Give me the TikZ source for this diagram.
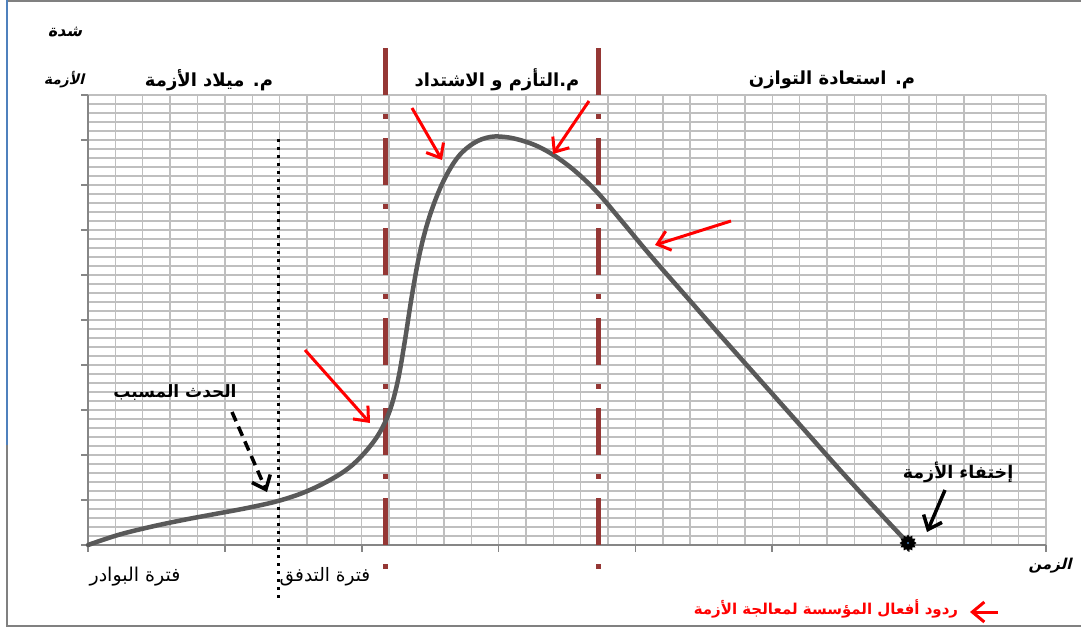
\documentclass[tikz,border=0pt]{standalone}
\usepackage{fontspec}
\usetikzlibrary{arrows.meta,shapes.geometric}
\TeXXeTstate=1
\newfontfamily\ar[Script=Arabic]{DejaVu Sans}
\newfontfamily\arsl[Script=Arabic,FakeSlant=0.25]{DejaVu Sans}
\definecolor{gridc}{RGB}{191,191,191}
\definecolor{axc}{RGB}{134,134,134}
\definecolor{curvec}{RGB}{89,89,89}
\definecolor{phasec}{RGB}{149,55,53}
\definecolor{framec}{RGB}{128,128,128}
\definecolor{bluec}{RGB}{79,129,189}
\definecolor{redc}{RGB}{255,0,0}
\tikzset{
  gridline/.style={gridc, line width=1.4pt},
  axisline/.style={axc, line width=1.6pt},
  curveline/.style={curvec, line width=4.5pt, line cap=round, line join=round},
  phaseline/.style={phasec, line width=5pt, dash pattern=on 47pt off 19pt on 5pt off 19pt},
  dotline/.style={black, line width=3pt, dash pattern=on 3pt off 5pt},
  redarrow/.style={redc, line width=3pt, -{Straight Barb[length=12pt,width=20pt,line width=3pt]}},
  blackarrow/.style={black, line width=3.5pt, -{Straight Barb[length=12pt,width=20pt,line width=3.5pt]}},
  lab/.style={inner sep=0pt, outer sep=0pt, text=black}
}
\begin{document}
\begin{tikzpicture}[x=1pt, y=-1pt]
\useasboundingbox (0,0) rectangle (1081,630);
% frame
\draw[framec, line width=1.2pt] (7,1) -- (1081,1);
\draw[framec, line width=2pt] (7,626) -- (1081,626);
\draw[framec, line width=1.5pt] (7,445) -- (7,627);
\draw[bluec, line width=1.5pt] (7,0) -- (7,445);
% grid
\foreach \i in {0,...,35} \draw[gridline] ({88+27.371*\i},95) -- ({88+27.371*\i},545);
\foreach \j in {0,...,50} \draw[gridline] (88,{95+9*\j}) -- (1046,{95+9*\j});
% axes
\draw[axisline] (88,95) -- (88,545) -- (1046,545);
\foreach \j in {0,...,10} \draw[axisline] (81,{95+45*\j}) -- (88,{95+45*\j});
\foreach \k in {0,...,7} \draw[axisline] ({88+136.857*\k},545) -- ({88+136.857*\k},552);
% phase separators
\draw[phaseline] (385,48) -- (385,572);
\draw[phaseline] (598,48) -- (598,572);
% trigger line
\draw[dotline] (278,139) -- (278,600);
% curve
\draw[curveline] plot[smooth, tension=0.6] coordinates {(88,545) (118,535) (150,527) (183,520) (215,514) (247,508) (278,501) (305,492) (330,480) (350,467) (367,450) (380,432) (390,410) (398,380) (405,340) (412,295) (420,252) (430,215) (443,182) (458,157) (474,143) (490,137) (505,137) (520,140) (537,146) (555,156) (575,171) (597,192) (620,219) (650,255) (685,295) (720,335) (760,380) (800,425) (850,481) (908,543)};
% end marker
\node[star, star points=12, star point ratio=1.35, fill=black, minimum size=17pt, inner sep=0pt] (endm) at (908,543) {};
\fill[bluec] (endm.center) circle (1.2pt);
% red arrows
\coordinate (a1s) at (412,108); \coordinate (a1e) at (442,160);
\coordinate (a2s) at (589,101); \coordinate (a2e) at (553,154);
\coordinate (a3s) at (731,221); \coordinate (a3e) at (655,245);
\coordinate (a4s) at (305,350); \coordinate (a4e) at (370,423);
\draw[redarrow] (a1s) -- (a1e);
\draw[redarrow] (a2s) -- (a2e);
\draw[redarrow] (a3s) -- (a3e);
\draw[redarrow] (a4s) -- (a4e);
% black arrows
\coordinate (b1s) at (232,412); \coordinate (b1e) at (267,492);
\draw[blackarrow, dash pattern=on 10pt off 6pt] (b1s) -- (b1e);
\coordinate (b2s) at (945,490); \coordinate (b2e) at (927,532);
\draw[blackarrow] (b2s) -- (b2e);
% labels
\node[lab] (ylab1) at (65,32) {\arsl\bfseries\fontsize{16pt}{18pt}\selectfont\beginR شدة\endR};
\node[lab] (ylab2) at (64,80) {\arsl\bfseries\fontsize{14pt}{16pt}\selectfont\beginR الأزمة\endR};
\node[lab] (p1) at (209,80) {\ar\bfseries\fontsize{18pt}{21pt}\selectfont\beginR م. ميلاد الأزمة\endR};
\node[lab] (p2) at (497,80) {\ar\bfseries\fontsize{18pt}{21pt}\selectfont\beginR م.التأزم و الاشتداد\endR};
\node[lab] (p3) at (832,80) {\ar\bfseries\fontsize{18pt}{21pt}\selectfont\beginR م. استعادة التوازن\endR};
\node[lab] (trig) at (175,393) {\ar\bfseries\fontsize{17pt}{20pt}\selectfont\beginR الحدث المسبب\endR};
\node[lab] (f1) at (135,577) {\ar\fontsize{19pt}{22pt}\selectfont\beginR فترة البوادر\endR};
\node[lab] (f2) at (325,577) {\ar\fontsize{18.5pt}{22pt}\selectfont\beginR فترة التدفق\endR};
\node[lab] (gone) at (958,472) {\ar\bfseries\fontsize{17.5pt}{20pt}\selectfont\beginR إختفاء الأزمة\endR};
\node[lab] (xlab) at (1050,566) {\arsl\bfseries\fontsize{15pt}{17pt}\selectfont\beginR الزمن\endR};
% legend
\coordinate (ls) at (998,612); \coordinate (le) at (970,612);
\draw[redarrow] (ls) -- (le);
\node[lab, text=redc] (legend) at (826,609) {\ar\bfseries\fontsize{15pt}{18pt}\selectfont\beginR ردود أفعال المؤسسة لمعالجة الأزمة\endR};
\end{tikzpicture}
\end{document}
